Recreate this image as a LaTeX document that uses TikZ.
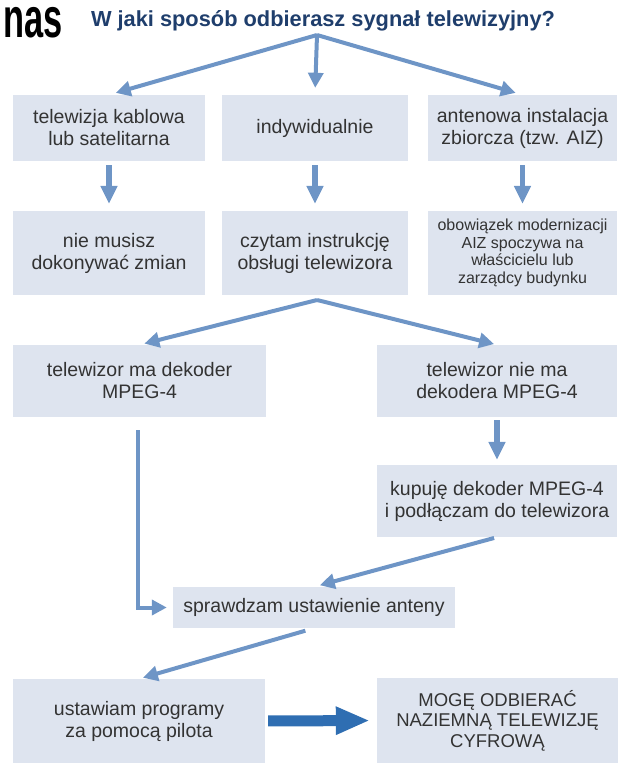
\documentclass[tikz,border=0pt]{standalone}
\usepackage{fontspec}
\setmainfont{Liberation Sans}
\usetikzlibrary{arrows.meta,calc}
\definecolor{boxfill}{HTML}{DEE4EF}
\definecolor{arrcol}{HTML}{6E95C6}
\definecolor{bigarr}{HTML}{2F6EB2}
\definecolor{titlecol}{HTML}{1F3E6C}
\definecolor{txtcol}{HTML}{333333}
\tikzset{
  boxnode/.style={fill=boxfill, draw=none, inner sep=0pt, align=center, text=txtcol,
    font=\fontsize{19.5}{22}\selectfont},
  smallbox/.style={boxnode, font=\fontsize{16}{17.6}\selectfont},
  capsbox/.style={boxnode, font=\fontsize{18.5}{20.5}\selectfont},
  arr/.style={draw=arrcol, line width=4pt, -{Triangle[width=15pt,length=15pt]}},
  varr/.style={draw=arrcol, line width=5.5pt, -{Triangle[width=16pt,length=18pt]}},
  fatarr/.style={draw=bigarr, line width=11pt, -{Triangle[width=26pt,length=34pt]}}
}
\begin{document}
\begin{tikzpicture}[x=1pt,y=-1pt]
\useasboundingbox (0,0) rectangle (633,774);
% header
\node[anchor=base east, inner sep=0pt] (nas) at (63,37)
  {\scalebox{0.86}[1.4]{\fontsize{40}{40}\selectfont\bfseries nas}};
\node[anchor=base, inner sep=0pt, text=titlecol] (title) at (323,26)
  {\fontsize{21.8}{24}\selectfont\bfseries W jaki sposób odbierasz sygnał telewizyjny?};
\coordinate (apex) at (317,35);
% row 1
\node[boxnode, minimum width=192pt, minimum height=66pt] (b1) at (109,128)
  {telewizja kablowa\\lub satelitarna};
\node[boxnode, minimum width=186pt, minimum height=66pt] (b2) at (315,128)
  {indywidualnie};
\node[boxnode, minimum width=189pt, minimum height=66pt] (b3) at (522.5,128)
  {antenowa instalacja\\zbiorcza (tzw. AIZ)};
% row 2
\node[boxnode, minimum width=192pt, minimum height=84pt] (c1) at (109,253)
  {nie musisz\\dokonywać zmian};
\node[boxnode, minimum width=186pt, minimum height=84pt] (c2) at (315,253)
  {czytam instrukcję\\obsługi telewizora};
\node[smallbox, minimum width=189pt, minimum height=84pt] (c3) at (522.5,253)
  {obowiązek modernizacji\\AIZ spoczywa na\\właścicielu lub\\zarządcy budynku};
% row 3
\node[boxnode, minimum width=253pt, minimum height=72pt] (m1) at (139.5,381)
  {telewizor ma dekoder\\MPEG-4};
\node[boxnode, minimum width=240pt, minimum height=72pt] (m2) at (497,381)
  {telewizor nie ma\\dekodera MPEG-4};
\node[boxnode, minimum width=240pt, minimum height=72pt] (k) at (497,501)
  {kupuję dekoder MPEG-4\\i podłączam do telewizora};
\node[boxnode, minimum width=282pt, minimum height=41pt] (s) at (314,607.5)
  {sprawdzam ustawienie anteny};
\node[boxnode, minimum width=252pt, minimum height=84pt] (u) at (139,721)
  {ustawiam programy\\za pomocą pilota};
\node[capsbox, minimum width=241pt, minimum height=85pt] (f) at (497.5,720.5)
  {MOGĘ ODBIERAĆ\\NAZIEMNĄ TELEWIZJĘ\\CYFROWĄ};
% connectors
\draw[arr, shorten >=7pt] (apex) -- (b1.north);
\draw[arr, shorten >=7pt] (apex) -- (b2.north);
\draw[arr, shorten >=7pt] (apex) -- (b3.north);
\draw[varr, shorten <=4pt, shorten >=7pt] (b1.south) -- (c1.north);
\draw[varr, shorten <=4pt, shorten >=7pt] (b2.south) -- (c2.north);
\draw[varr, shorten <=4pt, shorten >=7pt] (b3.south) -- (c3.north);
\coordinate (apex2) at (317,300);
\draw[arr, shorten >=5pt] (apex2) -- (m1.north);
\draw[arr, shorten >=3pt] (apex2) -- (m2.north);
\draw[varr, shorten <=3pt, shorten >=5pt] (m2.south) -- (k.north);
\draw[arr, shorten <=3pt, shorten >=6pt] (k.south) -- (s.north);
\draw[arr, shorten <=13pt, shorten >=6pt] (m1.south -| 138,0) |- (s.west);
\draw[arr, shorten <=9pt, shorten >=4pt] (s.south) -- (u.north);
\draw[fatarr, shorten <=3pt, shorten >=7pt] (u.east) -- (f.west);
\end{tikzpicture}
\end{document}
